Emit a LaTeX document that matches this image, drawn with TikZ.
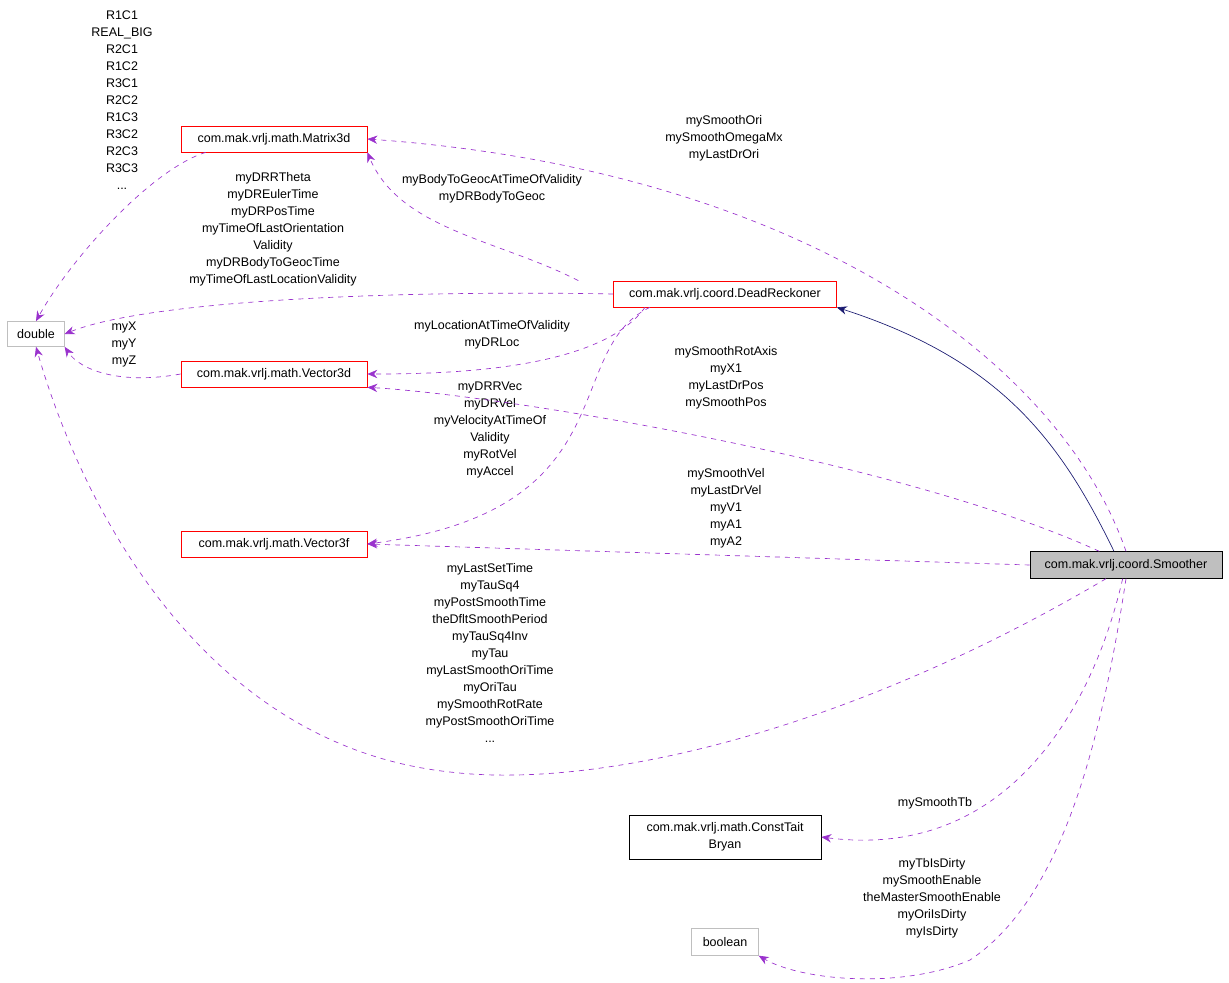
\documentclass[tikz,border=0pt]{standalone}
\usepackage{fontspec}
\setmainfont{Liberation Sans}
\usetikzlibrary{arrows.meta}
\definecolor{usepurple}{HTML}{9A32CD}
\definecolor{inhnavy}{HTML}{191970}
\definecolor{boxgrey}{HTML}{BFBFBF}
\tikzset{
  cls/.style={draw=red, fill=white, inner sep=0pt, minimum height=15.6pt, font=\fontsize{7.5}{9}\selectfont},
  ext/.style={draw=boxgrey, fill=white, inner sep=0pt, minimum height=15pt, font=\fontsize{7.5}{9}\selectfont},
  use/.style={usepurple, dashed, -{Stealth[length=6pt,width=5pt]}},
  inh/.style={inhnavy, -{Stealth[length=6pt,width=5pt]}},
  lbl/.style={align=center, font=\fontsize{7.5}{10.2}\selectfont, inner sep=0pt}
}
\begin{document}
\begin{tikzpicture}[x=0.6pt,y=-0.6pt]
\useasboundingbox (0,0) rectangle (1229,983);

% classes
\node[ext, minimum width=34pt] (double) at (36,334) {double};
\node[cls, minimum width=111.6pt] (matrix) at (274,139) {com.mak.vrlj.math.Matrix3d};
\node[cls, minimum width=133.8pt] (reckoner) at (725,294) {com.mak.vrlj.coord.DeadReckoner};
\node[cls, minimum width=111.6pt] (vecd) at (274,374) {com.mak.vrlj.math.Vector3d};
\node[cls, minimum width=111.6pt] (vecf) at (274,544) {com.mak.vrlj.math.Vector3f};
\node[draw=black, fill=boxgrey, inner sep=0pt, minimum width=115.2pt, minimum height=16pt,
  font=\fontsize{7.5}{9}\selectfont] (smoother) at (1126,565) {com.mak.vrlj.coord.Smoother};
\node[draw=black, fill=white, inner sep=0pt, minimum width=115.2pt, minimum height=26.4pt,
  align=center, font=\fontsize{7.5}{10.2}\selectfont] (tait) at (725,837) {com.mak.vrlj.math.ConstTait\\Bryan};
\node[ext, minimum width=40pt, minimum height=16pt] (bool) at (725,942) {boolean};

% inheritance
\draw[inh] (smoother.north) ++(-12,0) coordinate (sinh)
  (sinh) .. controls (1060,440) and (1000,360) .. (reckoner.south east);

% usage
\draw[use] (smoother.north) .. controls (1060,360) and (800,170) .. (matrix.east);
\node[lbl] (lori) at (724,138) {mySmoothOri\\mySmoothOmegaMx\\myLastDrOri};

\draw[use] ([xshift=-88pt]reckoner.north) .. controls (500,240) and (400,230) .. (matrix.south east);
\node[lbl] (lgeoc) at (492,189) {myBodyToGeocAtTimeOfValidity\\myDRBodyToGeoc};

\draw[use] (reckoner.west) .. controls (400,290) and (150,300) .. (double.east);
\node[lbl] (ltime) at (273,229) {myDRRTheta\\myDREulerTime\\myDRPosTime\\myTimeOfLastOrientation\\Validity\\myDRBodyToGeocTime\\myTimeOfLastLocationValidity};

\draw[use] ([xshift=-48pt]reckoner.south) .. controls (600,370) and (450,374) .. (vecd.east);
\node[lbl] (lloc) at (492,335) {myLocationAtTimeOfValidity\\myDRLoc};

\draw[use] ([xshift=-45pt]reckoner.south) .. controls (560,350) and (630,510) .. (vecf.east);
\node[lbl] (lvel) at (490,430) {myDRRVec\\myDRVel\\myVelocityAtTimeOf\\Validity\\myRotVel\\myAccel};

\draw[use] ([xshift=-16pt]smoother.north) .. controls (900,460) and (500,395) .. (vecd.south east);
\node[lbl] (lpos) at (726,378) {mySmoothRotAxis\\myX1\\myLastDrPos\\mySmoothPos};

\draw[use] (smoother.west) -- (vecf.east);
\node[lbl] (lsvel) at (726,508) {mySmoothVel\\myLastDrVel\\myV1\\myA1\\myA2};

\draw[use] ([xshift=-12pt]smoother.south) .. controls (850,730) and (600,790) .. (450,772)
  .. controls (200,745) and (80,500) .. (double.south);
\node[lbl] (lset) at (490,653) {myLastSetTime\\myTauSq4\\myPostSmoothTime\\theDfltSmoothPeriod\\myTauSq4Inv\\myTau\\myLastSmoothOriTime\\myOriTau\\mySmoothRotRate\\myPostSmoothOriTime\\...};

\draw[use] (matrix.south west) ++(25,0) coordinate (mlow)
  (mlow) .. controls (150,170) and (70,260) .. (double.north);
\node[lbl] (lr) at (122,100) {R1C1\\REAL\_BIG\\R2C1\\R1C2\\R3C1\\R2C2\\R1C3\\R3C2\\R2C3\\R3C3\\...};

\draw[use] (vecd.west) .. controls (120,385) and (80,370) .. (double.south east);
\node[lbl] (lxyz) at (124,344) {myX\\myY\\myZ};

\draw[use] ([xshift=-2pt]smoother.south) .. controls (1090,720) and (1000,860) .. (tait.east);
\node[lbl] (ltb) at (935,803) {mySmoothTb};

\draw[use] (smoother.south) .. controls (1100,750) and (1060,900) .. (970,960)
  .. controls (900,990) and (800,980) .. (bool.south east);
\node[lbl] (ldirty) at (932,898) {myTbIsDirty\\mySmoothEnable\\theMasterSmoothEnable\\myOriIsDirty\\myIsDirty};
\end{tikzpicture}
\end{document}
